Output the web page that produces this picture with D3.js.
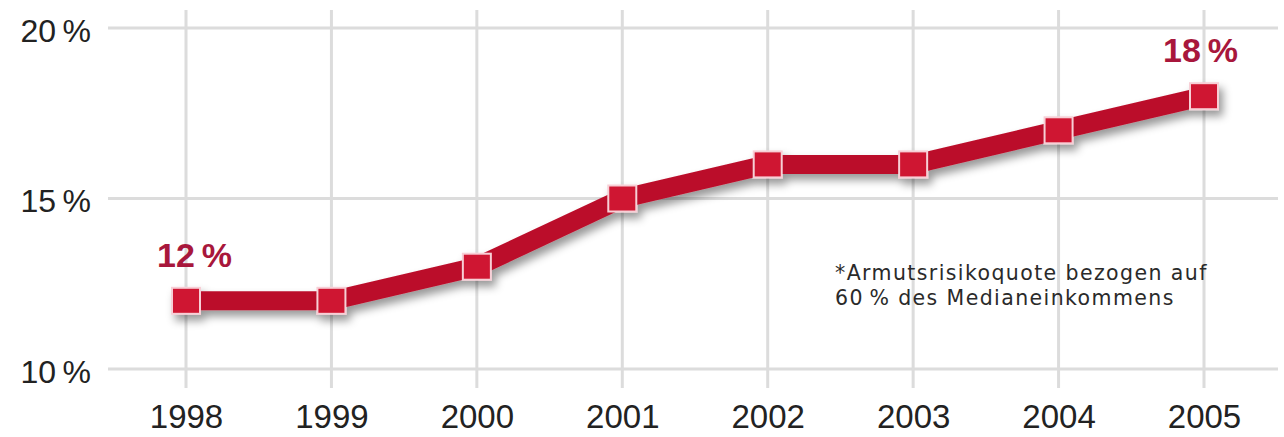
<!DOCTYPE html>
<html><head><meta charset="utf-8">
<script src="https://cdn.jsdelivr.net/npm/d3@7"></script>
<style>body{margin:0;background:#fff}svg{display:block}</style>
</head><body>
<script>
const years = ["1998","1999","2000","2001","2002","2003","2004","2005"];
const values = [12,12,13,15,16,16,17,18];
const yTicks = [10,15,20];
const valueLabels = [{year:"1998", text:"12\u2009%"},{year:"2005", text:"18\u2009%"}];
const note = ["*Armutsrisikoquote bezogen auf","60\u2009% des Medianeinkommens"];

const W=1284,H=437;
const FONT="Liberation Sans, Arial, sans-serif";
const svg=d3.select("body").append("svg").attr("width",W).attr("height",H);
const x=d3.scalePoint().domain(years).range([186,1204]);
const y=d3.scaleLinear().domain([10,20]).range([369,28]);

const defs=svg.append("defs");
const f=defs.append("filter").attr("id","sh").attr("x","-20%").attr("y","-50%").attr("width","140%").attr("height","200%");
f.append("feDropShadow").attr("dx",4).attr("dy",6).attr("stdDeviation",4).attr("flood-color","#000").attr("flood-opacity",0.4);

// grid
const g=svg.append("g");
g.selectAll(".hg").data(yTicks).join("line")
 .attr("x1",108).attr("x2",1278).attr("y1",d=>y(d)).attr("y2",d=>y(d))
 .attr("stroke","#dcdcdc").attr("stroke-width",3);
g.selectAll(".vg").data(years).join("line")
 .attr("x1",d=>x(d)).attr("x2",d=>x(d)).attr("y1",10).attr("y2",388)
 .attr("stroke","#dcdcdc").attr("stroke-width",3);

// y axis labels
const yAxis=d3.axisLeft(y).tickValues(yTicks).tickFormat(d=>d+"\u2009%").tickSize(0).tickPadding(0);
const ya=svg.append("g").attr("transform","translate(91,0)").call(yAxis);
ya.select(".domain").remove();
ya.selectAll("text").attr("font-family",FONT).attr("font-size",32).attr("fill","#222").attr("dy","0.42em");

// x axis labels
const xAxis=d3.axisBottom(x).tickSize(0).tickPadding(0);
const xa=svg.append("g").attr("transform","translate(0,428)").call(xAxis);
xa.select(".domain").remove();
xa.selectAll("text").attr("font-family",FONT).attr("font-size",33).attr("fill","#222").attr("dy","0");

// line
const data=years.map((yr,i)=>({yr,v:values[i]}));
const line=d3.line().x(d=>x(d.yr)).y(d=>y(d.v));
const lg=svg.append("g").attr("filter","url(#sh)");
lg.append("path").datum(data).attr("d",line).attr("fill","none")
 .attr("stroke","#bb0f2b").attr("stroke-width",19).attr("stroke-linejoin","miter");
lg.selectAll("rect").data(data).join("rect")
 .attr("x",d=>x(d.yr)-14).attr("y",d=>y(d.v)-13).attr("width",28).attr("height",26)
 .attr("fill","#cf1630").attr("stroke","#f7cfd6").attr("stroke-width",2);

// value labels
svg.selectAll(".vl").data(valueLabels).join("text")
 .attr("x",d=>d.year==="1998"? x(d.year)-29 : x(d.year)-41)
 .attr("y",(d)=>{const v=values[years.indexOf(d.year)];return y(v)-34;})
 .attr("font-family",FONT).attr("font-weight","bold").attr("font-size",34)
 .attr("fill","#a8173c").text(d=>d.text);

// note
svg.append("g").selectAll("text").data(note).join("text")
 .attr("x",835).attr("y",(d,i)=>280+i*25)
 .attr("font-family","DejaVu Sans, sans-serif").attr("font-size",20.5).attr("letter-spacing",1.4)
 .attr("fill","#2a2a2a").text(d=>d);
</script>
</body></html>
